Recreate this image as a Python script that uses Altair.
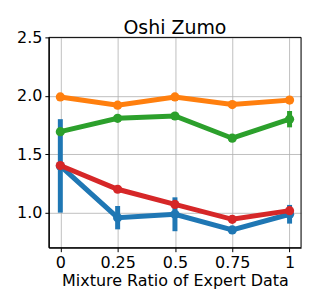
import altair as alt
import pandas as pd

ratios = [0, 0.25, 0.5, 0.75, 1]
series = ["blue", "orange", "green", "red"]
colors = ["#1f77b4", "#ff7f0e", "#2ca02c", "#d62728"]
blue = [1.40, 0.957, 0.986, 0.852, 0.986]
blue_err = [0.40, 0.10, 0.145, 0.02, 0.08]
orange = [1.99, 1.92, 1.99, 1.925, 1.963]
orange_err = [0.01, 0.02, 0.01, 0.02, 0.01]
green = [1.693, 1.807, 1.827, 1.637, 1.80]
green_err = [0.01, 0.02, 0.01, 0.01, 0.07]
red = [1.403, 1.20, 1.07, 0.943, 1.017]
red_err = [0.01, 0.01, 0.03, 0.01, 0.02]

rows = []
for order, (name, vals, errs) in enumerate(zip(series, [blue, orange, green, red], [blue_err, orange_err, green_err, red_err])):
    for x, v, e in zip(ratios, vals, errs):
        rows.append({"series": name, "order": order, "x": x, "y": v, "lo": v - e, "hi": v + e})
df = pd.DataFrame(rows)

W, H = 253, 211
xs = alt.Scale(domain=[-0.05, 1.05], nice=False, zero=False)
ys = alt.Scale(domain=[0.70, 2.5], nice=False, zero=False)
cs = alt.Scale(domain=series, range=colors)

xax = alt.Axis(values=ratios, labelExpr="datum.value + ''", title="Mixture Ratio of Expert Data",
               grid=True, gridColor="#b0b0b0", gridWidth=0.8, domain=True, domainColor="black",
               tickColor="black", tickSize=4, labelFontSize=16, titleFontSize=16,
               labelColor="black", titleColor="black", titleFontWeight="normal",
               labelPadding=3, titlePadding=2, labelFont="DejaVu Sans", titleFont="DejaVu Sans")
yax = alt.Axis(values=[1.0, 1.5, 2.0, 2.5], format=".1f", title=None,
               grid=True, gridColor="#b0b0b0", gridWidth=0.8, domain=True, domainColor="black",
               tickColor="black", tickSize=4, labelFontSize=16, labelColor="black",
               labelPadding=3, labelFont="DejaVu Sans")

layers = []
for name in series:
    d = df[df.series == name]
    base = alt.Chart(d)
    line = base.mark_line(strokeWidth=5, clip=True).encode(
        x=alt.X("x:Q", scale=xs, axis=xax), y=alt.Y("y:Q", scale=ys, axis=yax),
        color=alt.Color("series:N", scale=cs, legend=None))
    err = base.mark_rule(strokeWidth=5).encode(
        x=alt.X("x:Q", scale=xs), y=alt.Y("lo:Q", scale=ys), y2="hi:Q",
        color=alt.Color("series:N", scale=cs, legend=None))
    pts = base.mark_circle(size=85, opacity=1).encode(
        x=alt.X("x:Q", scale=xs), y=alt.Y("y:Q", scale=ys),
        color=alt.Color("series:N", scale=cs, legend=None))
    layers += [line, err, pts]

frame = alt.Chart(pd.DataFrame({"a": [0]})).mark_rect(
    fill=None, stroke="black", strokeWidth=1).encode(
    x=alt.value(0), x2=alt.value(W), y=alt.value(0), y2=alt.value(H))
layers.append(frame)

chart = alt.layer(*layers).properties(
    width=W, height=H,
    title=alt.TitleParams("Oshi Zumo", fontSize=19, font="DejaVu Sans", fontWeight="normal",
                          color="black", offset=-9),
    autosize="none",
    padding={"left": 41, "top": 29, "right": 10, "bottom": 50},
).configure_view(stroke="black", strokeWidth=1).configure(background="white")

chart.save("out.html", embed_options={"renderer": "svg", "actions": False})
